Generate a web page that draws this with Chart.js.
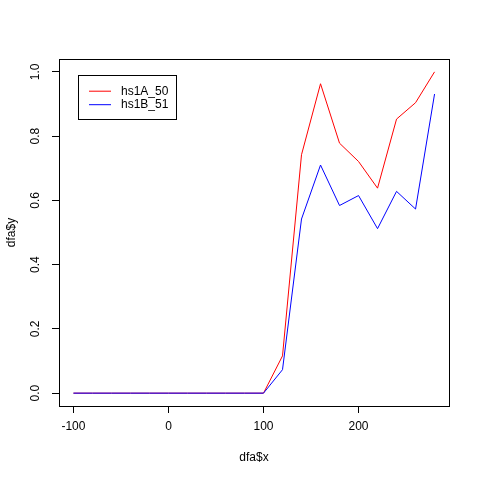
<!DOCTYPE html>
<html>
<head>
<meta charset="utf-8">
<script src="https://cdn.jsdelivr.net/npm/chart.js@4/dist/chart.umd.min.js"></script>
<style>
   html, body { margin: 0; padding: 0; background: #fff; }
   #wrap { width: 480px; height: 480px; }
</style>
</head>
<body>
<div id="wrap"><canvas id="chart" width="480" height="480"></canvas></div>
<script>
// data
const xValues = [-100, -80, -60, -40, -20, 0, 20, 40, 60, 80, 100, 120, 140, 160, 180, 200, 220, 240, 260, 280];
const hs1A50 = [0, 0, 0, 0, 0, 0, 0, 0, 0, 0, 0, 0.116, 0.742, 0.963, 0.778, 0.721, 0.638, 0.853, 0.904, 1.0];
const hs1B51 = [0, 0, 0, 0, 0, 0, 0, 0, 0, 0, 0, 0.073, 0.542, 0.710, 0.584, 0.615, 0.512, 0.628, 0.573, 0.931];
const seriesNames = ["hs1A_50", "hs1B_51"];
const seriesColors = ["#ff0000", "#0000ff"];
const xTicks = [-100, 0, 100, 200];
const yTicks = [0, 0.2, 0.4, 0.6, 0.8, 1.0];

const FONT = "'Liberation Sans', Arial, Helvetica, sans-serif";
Chart.defaults.font.family = FONT;
Chart.defaults.font.size = 12;
Chart.defaults.color = "#000";

const toPoints = (ys) => xValues.map((x, i) => ({ x: x, y: ys[i] }));

// box around the plot, rotated y labels, legend inside the plot
const rPlot = {
   id: "rPlot",
   afterDraw(chart) {
      const { ctx, chartArea: a } = chart;
      ctx.save();
      ctx.strokeStyle = "#000";
      ctx.lineWidth = 1;
      ctx.strokeRect(Math.round(a.left) + 0.5, Math.round(a.top) + 0.5,
         Math.round(a.right - a.left), Math.round(a.bottom - a.top));

      // y tick labels, reading bottom to top
      const ys = chart.scales.y;
      ctx.fillStyle = "#000";
      ctx.font = "12px " + FONT;
      ctx.textAlign = "center";
      ctx.textBaseline = "middle";
      yTicks.forEach((v) => {
         ctx.save();
         ctx.translate(36, ys.getPixelForValue(v));
         ctx.rotate(-Math.PI / 2);
         ctx.fillText(v.toFixed(1), 0, 0);
         ctx.restore();
      });

      // legend
      ctx.strokeStyle = "#000";
      ctx.strokeRect(78.5, 75.5, 98, 44);
      seriesNames.forEach((name, i) => {
         const y = 91.2 + i * 13.5;
         ctx.strokeStyle = seriesColors[i];
         ctx.lineWidth = 1;
         ctx.beginPath();
         ctx.moveTo(89, y);
         ctx.lineTo(111, y);
         ctx.stroke();
         ctx.fillStyle = "#000";
         ctx.textAlign = "left";
         ctx.fillText(name, 121, y);
      });
      ctx.restore();
   },
};

const config = {
   type: "line",
   data: {
      datasets: [
         {
            label: seriesNames[0],
            data: toPoints(hs1A50),
            borderColor: seriesColors[0],
            borderWidth: 1,
            pointRadius: 0,
            tension: 0,
            order: 1,
         },
         {
            label: seriesNames[1],
            data: toPoints(hs1B51),
            borderColor: seriesColors[1],
            borderWidth: 1,
            pointRadius: 0,
            tension: 0,
            order: 0,
         },
      ],
   },
   options: {
      responsive: false,
      animation: false,
      events: [],
      layout: { padding: { left: 0, top: 59, right: 31, bottom: 0 } },
      plugins: { legend: { display: false }, tooltip: { enabled: false } },
      scales: {
         x: {
            type: "linear",
            min: -115.2,
            max: 295.2,
            afterBuildTicks: (s) => { s.ticks = xTicks.map((v) => ({ value: v })); },
            afterFit: (s) => { s.height = 74; },
            ticks: { padding: 6, maxRotation: 0, font: { size: 12 } },
            grid: { drawOnChartArea: false, drawTicks: true, tickLength: 7, color: "#000" },
            border: { display: true, color: "#000" },
            title: { display: true, text: "dfa$x", font: { size: 12 }, padding: { top: 0, bottom: 15 } },
         },
         y: {
            type: "linear",
            min: -0.04,
            max: 1.04,
            afterBuildTicks: (s) => { s.ticks = yTicks.map((v) => ({ value: v })); },
            afterFit: (s) => { s.width = 59; },
            ticks: { display: false },
            grid: { drawOnChartArea: false, drawTicks: true, tickLength: 7, color: "#000" },
            border: { display: true, color: "#000" },
            title: { display: true, text: "dfa$y", font: { size: 12 }, padding: { top: 4, bottom: 0 } },
         },
      },
   },
   plugins: [rPlot],
};

new Chart(document.getElementById("chart"), config);
</script>
</body>
</html>
